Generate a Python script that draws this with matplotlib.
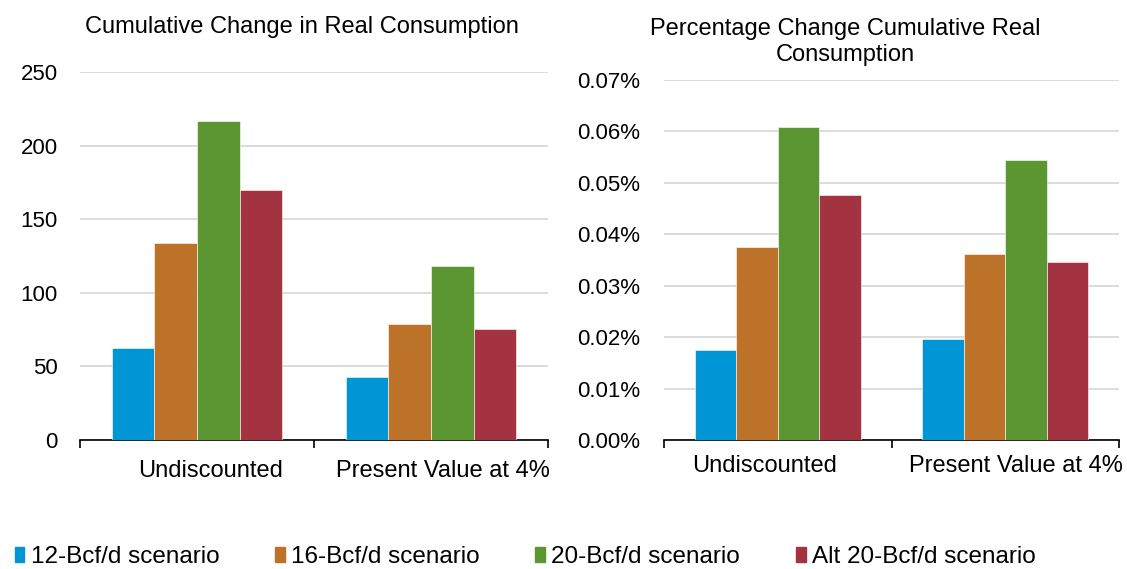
import numpy as np
import matplotlib.pyplot as plt
from matplotlib.patches import Patch
from matplotlib.ticker import FuncFormatter

plt.rcParams["font.family"] = ["Liberation Sans", "DejaVu Sans"]

# ========================= Data =========================#
categories = ["Undiscounted", "Present Value at 4%"]
scenarios = ["12-Bcf/d scenario", "16-Bcf/d scenario", "20-Bcf/d scenario", "Alt 20-Bcf/d scenario"]
colors = ["#0096d6", "#bd722a", "#5c9632", "#a43342"]

cum_change = [  # per scenario: [undiscounted, pv 4%]
    [62.5, 42.8],
    [133.8, 78.8],
    [216.5, 118.2],
    [169.5, 75.2],
]
pct_change = [  # percent
    [0.0175, 0.0197],
    [0.0375, 0.0362],
    [0.0609, 0.0545],
    [0.0477, 0.0346],
]

# ========================= Figure =========================#
fig = plt.figure(figsize=(11.27, 5.69), dpi=100)
ax1 = fig.add_axes([80 / 1127, 1 - 440 / 569, 468 / 1127, 368 / 569])
ax2 = fig.add_axes([664 / 1127, 1 - 440 / 569, 455 / 1127, 360 / 569])

bw = 0.182
x = np.arange(len(categories))


def draw(ax, values, ymax, step, lab_dx, lab_y):
    for i, vals in enumerate(values):
        ax.bar(x + (i - 1.5) * bw, vals, bw, color=colors[i], edgecolor="white", linewidth=0.4, zorder=3)
    ax.set_xlim(-0.5, len(categories) - 0.5)
    ax.set_ylim(0, ymax)
    ax.set_yticks(np.arange(0, ymax + step / 2, step))
    ax.yaxis.grid(True, color="#d9d9d9", linewidth=1.3, zorder=0)
    for s in ["top", "right", "left"]:
        ax.spines[s].set_visible(False)
    ax.spines["bottom"].set_linewidth(1.2)
    ax.tick_params(axis="y", length=0, labelsize=16, pad=16)
    ax.set_xticks([-0.5, 0.5, 1.5])
    ax.set_xticklabels([])
    ax.tick_params(axis="x", length=6, width=1.2, direction="out")
    for xi, c, dx in zip(x, categories, lab_dx):
        ax.text(xi + dx, lab_y, c, transform=ax.get_xaxis_transform(), ha="center", va="center", fontsize=17)


draw(ax1, cum_change, 250, 50, [0.06, 0.05], -0.084)
draw(ax2, pct_change, 0.07, 0.01, [-0.06, 0.045], -0.072)
ax2.yaxis.set_major_formatter(FuncFormatter(lambda v, p: f"{v:.2f}%"))
ax2.tick_params(axis="y", pad=17)

fig.text(302 / 1127, 1 - 27 / 569, "Cumulative Change in Real Consumption", ha="center", va="center", fontsize=17)
fig.text(845 / 1127, 1 - 42 / 569, "Percentage Change Cumulative Real\nConsumption", ha="center", va="center",
         fontsize=17, linespacing=1.2)

handles = [Patch(color=c) for c in colors]
fig.legend(handles, scenarios, loc="center left", bbox_to_anchor=(5 / 1127, 1 - 557 / 569), ncol=4,
           frameon=False, fontsize=17.5, handlelength=0.4, handleheight=0.55, handletextpad=0.25,
           columnspacing=2.3, borderaxespad=0)

fig.savefig("out.png", dpi=100)
